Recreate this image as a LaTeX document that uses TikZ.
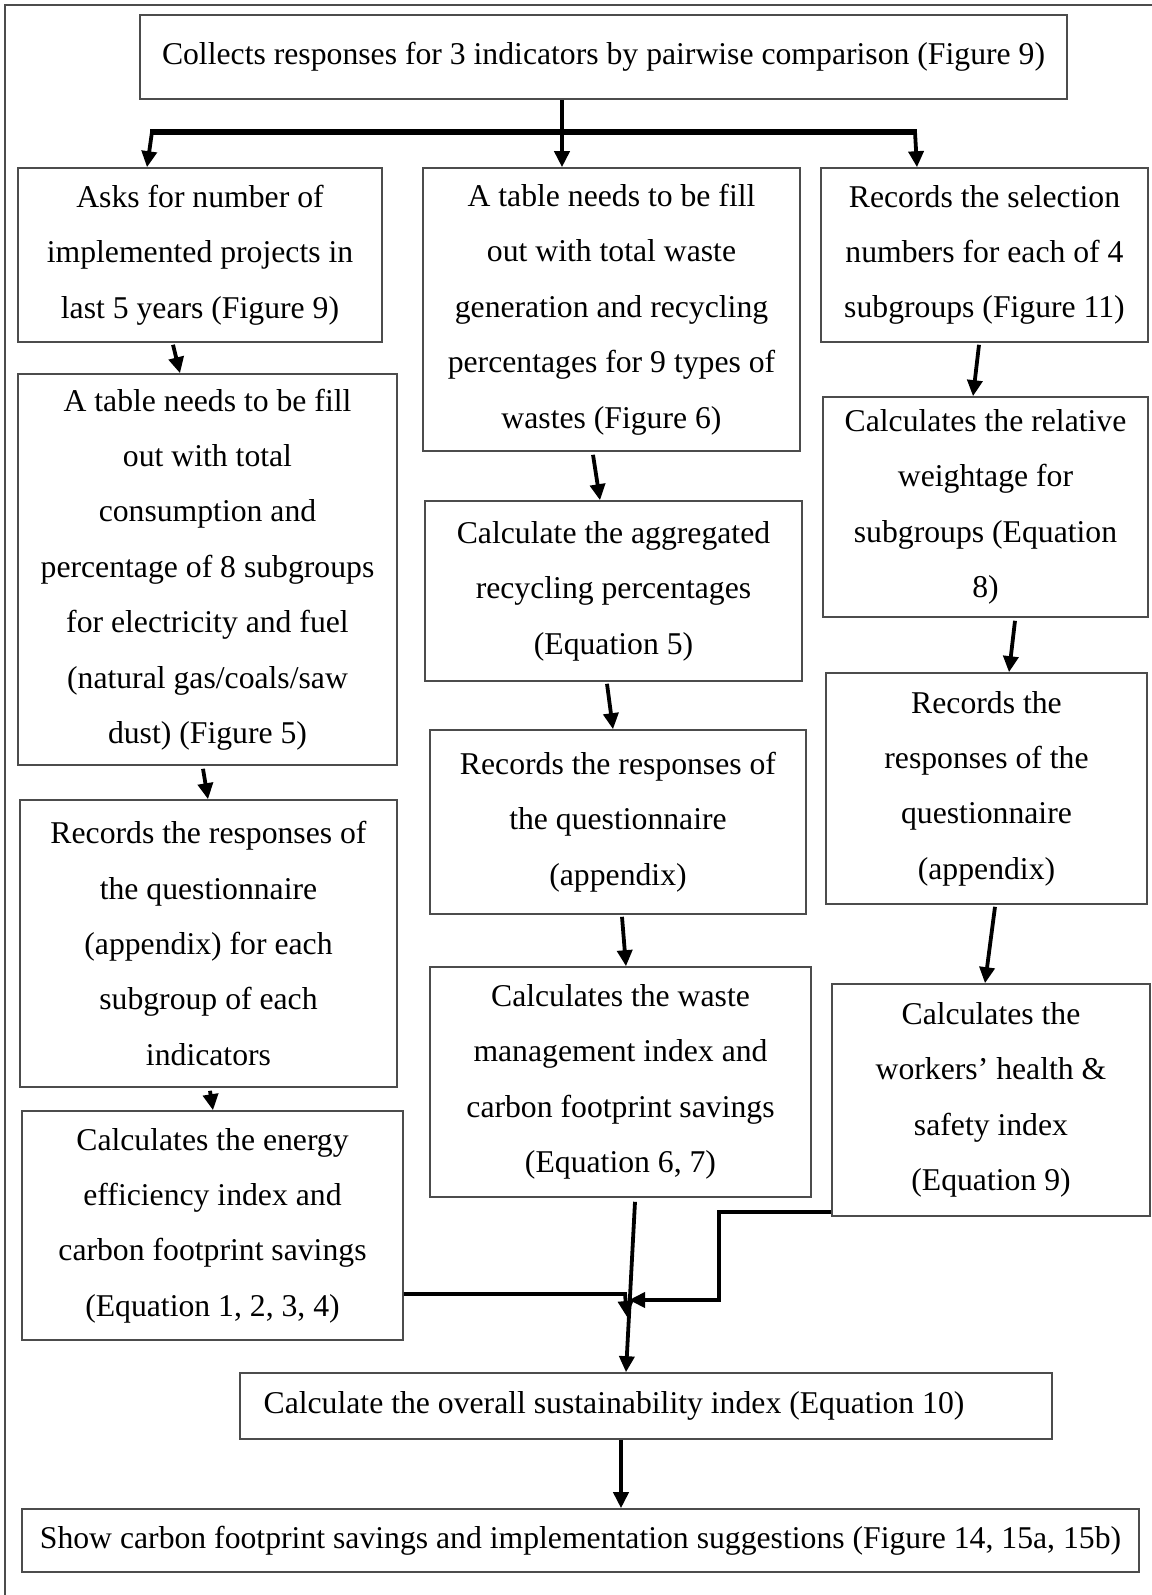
\documentclass[tikz,border=0pt]{standalone}
\usepackage{fontspec}
\setmainfont{Liberation Serif}
\usetikzlibrary{arrows.meta}
\begin{document}
\begin{tikzpicture}[x=1pt,y=-1pt,
  box/.style={draw=black!70,line width=1.6pt,align=center,inner sep=0pt,
    font=\fontsize{31.7}{55.4}\selectfont},
  arr/.style={line width=3.8pt,-{Triangle[length=16pt,width=15pt]}},
  thick line/.style={line width=3.8pt}]
\useasboundingbox (0,0) rectangle (1151,1595);
\draw[black!70,line width=1.6pt] (5,1600) -- (5,5) -- (1160,5);
% boxes
\node[box,minimum width=927pt,minimum height=84pt] (top) at (603.5,57) {Collects responses for 3 indicators by pairwise comparison (Figure 9)};
\node[box,minimum width=364pt,minimum height=174pt] (A1) at (200,255) {Asks for number of\\implemented projects in\\last 5 years (Figure 9)};
\node[box,minimum width=377pt,minimum height=283pt] (B1) at (611.5,309.5) {A table needs to be fill\\out with total waste\\generation and recycling\\percentages for 9 types of\\wastes (Figure 6)};
\node[box,minimum width=327pt,minimum height=174pt] (C1) at (984.5,255) {Records the selection\\numbers for each of 4\\subgroups (Figure 11)};
\node[box,minimum width=379pt,minimum height=391pt] (A2) at (207.5,569.5) {A table needs to be fill\\out with total\\consumption and\\percentage of 8 subgroups\\for electricity and fuel\\(natural gas/coals/saw\\dust) (Figure 5)};
\node[box,minimum width=377pt,minimum height=180pt] (B2) at (613.5,591) {Calculate the aggregated\\recycling percentages\\(Equation 5)};
\node[box,minimum width=325pt,minimum height=220pt] (C2) at (985.5,507) {Calculates the relative\\weightage for\\subgroups (Equation\\8)};
\node[box,minimum width=376pt,minimum height=184pt] (B3) at (618,822) {Records the responses of\\the questionnaire\\(appendix)};
\node[box,minimum width=321pt,minimum height=231pt] (C3) at (986.5,788.5) {Records the\\responses of the\\questionnaire\\(appendix)};
\node[box,minimum width=377pt,minimum height=287pt] (A3) at (208.5,943.5) {Records the responses of\\the questionnaire\\(appendix) for each\\subgroup of each\\indicators};
\node[box,minimum width=381pt,minimum height=230pt] (B4) at (620.5,1082) {Calculates the waste\\management index and\\carbon footprint savings\\(Equation 6, 7)};
\node[box,minimum width=318pt,minimum height=232pt] (C4) at (991,1100) {Calculates the\\workers' health \&\\safety index\\(Equation 9)};
\node[box,minimum width=381pt,minimum height=229pt] (A4) at (212.5,1225.5) {Calculates the energy\\efficiency index and\\carbon footprint savings\\(Equation 1, 2, 3, 4)};
\node[box,minimum width=812pt,minimum height=66pt] (ov) at (646,1406) {Calculate the overall sustainability index (Equation 10)\hspace*{64pt}};
\node[box,minimum width=1117pt,minimum height=63pt] (fin) at (580.5,1540.5) {Show carbon footprint savings and implementation suggestions (Figure 14, 15a, 15b)};
% top distribution
\coordinate (j) at (562,132);
\coordinate (jl) at (152,132);
\coordinate (jr) at (915,132);
\draw[thick line] ([xshift=-41.5pt]top.south) -- (j);
\draw[line width=6pt] ([xshift=-2pt]jl) -- ([xshift=2pt]jr);
\draw[arr] (jl) -- ([xshift=-53pt]A1.north);
\draw[arr] (j) -- ([xshift=-49.5pt]B1.north);
\draw[arr] (jr) -- ([xshift=-67.5pt]C1.north);
% column arrows
\draw[arr] ([xshift=-27pt,yshift=-2pt]A1.south) -- ([xshift=-27.5pt]A2.north);
\draw[arr] ([xshift=-18.5pt,yshift=-3pt]B1.south) -- ([xshift=-13.5pt]B2.north);
\draw[arr] ([xshift=-5.5pt,yshift=-2pt]C1.south) -- ([xshift=-12.5pt]C2.north);
\draw[arr] ([xshift=-4.5pt,yshift=-3pt]A2.south) -- ([xshift=-0.5pt]A3.north);
\draw[arr] ([xshift=-6.5pt,yshift=-2pt]B2.south) -- ([xshift=-5pt]B3.north);
\draw[arr] ([xshift=29.5pt,yshift=-3pt]C2.south) -- ([xshift=22.5pt]C3.north);
\draw[arr] ([xshift=4pt,yshift=-2pt]B3.south) -- ([xshift=5.5pt]B4.north);
\draw[arr] ([xshift=8.5pt,yshift=-2pt]C3.south) -- ([xshift=-6pt]C4.north);
\draw[arr] ([xshift=1.5pt,yshift=-3pt]A3.south) -- ([xshift=0.5pt]A4.north);
% merging
\coordinate (m1) at (625,1294);
\coordinate (m2) at (627,1317);
\coordinate (m3) at (719,1212);
\coordinate (m4) at (719,1300);
\coordinate (m5) at (629,1300);
\draw[arr] ([yshift=-68.5pt]A4.east) -- (m1) -- (m2);
\draw[arr] ([yshift=-112pt]C4.west) -- (m3) -- (m4) -- (m5);
\draw[arr] ([xshift=14.5pt,yshift=-4pt]B4.south) -- ([xshift=-20pt]ov.north);
\draw[arr] ([xshift=-25pt]ov.south) -- ([xshift=40.5pt]fin.north);
\end{tikzpicture}
\end{document}
